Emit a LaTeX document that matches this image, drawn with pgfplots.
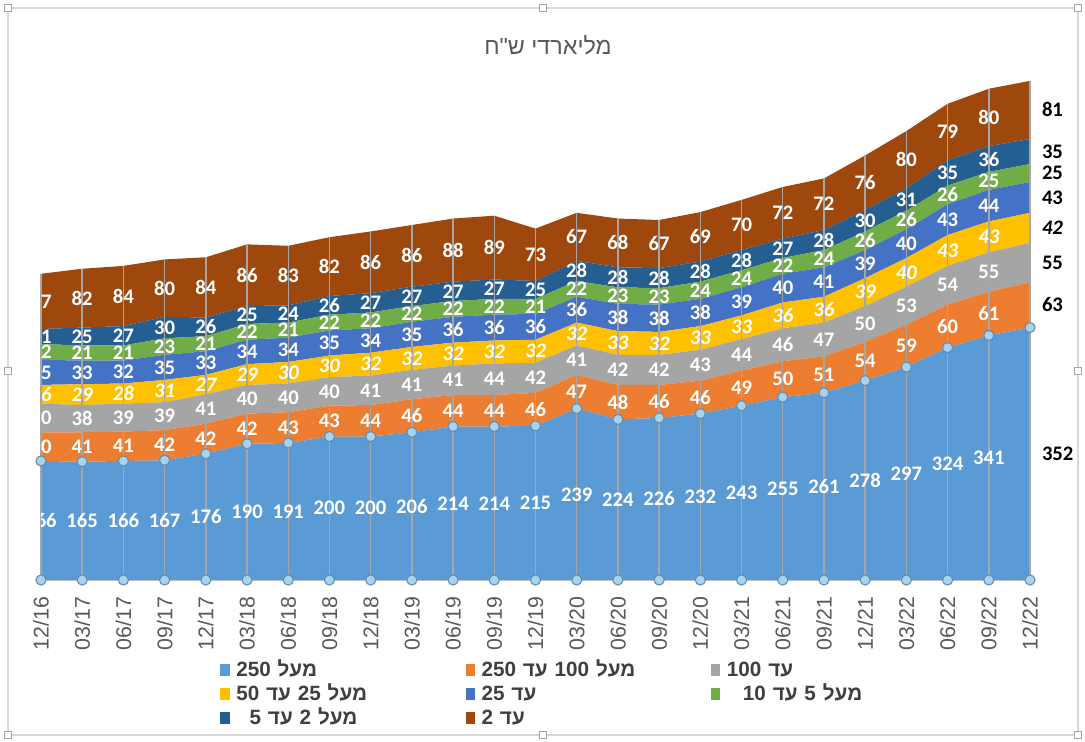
\documentclass[border=0pt]{standalone}
\usepackage{pgfplots}
\pgfplotsset{compat=1.18}
\usepackage{pgfplotstable}
\usepackage{fontspec}
\setmainfont{Carlito}
\newfontfamily\hebfont[Script=Hebrew]{Liberation Sans}
\newfontfamily\titlefont[Script=Hebrew, Ligatures=TeXOff]{Liberation Sans}
\newfontfamily\tickfont{Liberation Sans}
\TeXXeTstate=1
\definecolor{cA}{HTML}{5B9BD5}
\definecolor{cB}{HTML}{ED7D31}
\definecolor{cC}{HTML}{A5A5A5}
\definecolor{cD}{HTML}{FFC000}
\definecolor{cE}{HTML}{4472C4}
\definecolor{cF}{HTML}{70AD47}
\definecolor{cG}{HTML}{255E91}
\definecolor{cH}{HTML}{9E480E}
\definecolor{txtgray}{HTML}{595959}
\definecolor{leggray}{HTML}{3F3F3F}
\definecolor{dropgray}{HTML}{A6A6A6}
\definecolor{mkfill}{HTML}{A9D3EA}
\definecolor{mkdraw}{HTML}{5F8DB5}
\definecolor{framegray}{HTML}{D9D9D9}

\pgfplotstableread{
x s1 s2 s3 s4 s5 s6 s7 s8 z
0 166 40 40 26 35 22 21 77 0
1 165 41 38 29 33 21 25 82 0
2 166 41 39 28 32 21 27 84 0
3 167 42 39 31 35 23 30 80 0
4 176 42 41 27 33 21 26 84 0
5 190 42 40 29 34 22 25 86 0
6 191 43 40 30 34 21 24 83 0
7 200 43 40 30 35 22 26 82 0
8 200 44 41 32 34 22 27 86 0
9 206 46 41 32 35 22 27 86 0
10 214 44 41 32 36 22 27 88 0
11 214 44 44 32 36 22 27 89 0
12 215 46 42 32 36 21 25 73 0
13 239 47 41 32 36 22 28 67 0
14 224 48 42 33 38 23 28 68 0
15 226 46 42 32 38 23 28 67 0
16 232 46 43 33 38 24 28 69 0
17 243 49 44 33 39 24 28 70 0
18 255 50 46 36 40 22 27 72 0
19 261 51 47 36 41 24 28 72 0
20 278 54 50 39 39 26 30 76 0
21 297 59 53 40 40 26 31 80 0
22 324 60 54 43 43 26 35 79 0
23 341 61 55 43 44 25 36 80 0
24 352 63 55 42 43 25 35 81 0
}\data
\pgfplotstablecreatecol[create col/expr={\thisrow{s1}+\thisrow{s2}+\thisrow{s3}+\thisrow{s4}+\thisrow{s5}+\thisrow{s6}+\thisrow{s7}+\thisrow{s8}}]{tot}\data

\pgfplotsset{
  base/.style={at={(30.75pt,121.5pt)}, anchor=south west, width=741.75pt, height=376.5pt,
    scale only axis, xmin=0, xmax=24, ymin=0, ymax=700, clip=false},
  lab/.style={draw=none, mark=none, point meta=explicit,
    /pgf/number format/assume math mode=true,
    visualization depends on={\thisrow{#1} \as \myv},
    nodes near coords={\ifnum\coordindex<24 \pgfmathprintnumber{\pgfplotspointmeta}\else\rlap{\hspace{9pt}\color{black}\pgfmathprintnumber{\pgfplotspointmeta}}\fi},
    every node near coord/.append style={anchor=center, text=white, inner sep=0pt,
      font=\fontsize{15.5}{18}\selectfont\bfseries, yshift={-0.26893pt*\myv}}},
  legimg/.style={legend image code/.code={\fill[##1, draw=none] (0pt,0.5pt) rectangle (7pt,9.5pt);}}
}

\begin{document}
\begin{tikzpicture}
\useasboundingbox (0,0) rectangle (813.75pt,556.5pt);
\fill[white] (0,0) rectangle (813.75pt,556.5pt);
\draw[framegray, line width=0.8pt] (6pt,5.25pt) rectangle (808.5pt,550.5pt);
\foreach \hx/\hy in {6/5.25, 407.25/5.25, 808.5/5.25, 6/278.25, 808.5/278.25, 6/550.5, 407.25/550.5, 808.5/550.5}{
  \filldraw[fill=white, draw=black!35, line width=0.6pt] (\hx pt-2.6pt,\hy pt-2.6pt) rectangle (\hx pt+2.6pt,\hy pt+2.6pt);
}
\node[text=txtgray, font=\titlefont\fontsize{17.5}{20}\selectfont] at (411pt,522.75pt) {\beginR מליארדי ש"ח\endR};

% areas
\begin{axis}[base, stack plots=y,
  axis x line=bottom, axis y line=none,
  x axis line style={-, draw=black!25, line width=0.8pt},
  xtick={0,...,24},
  xticklabels={12/16,03/17,06/17,09/17,12/17,03/18,06/18,09/18,12/18,03/19,06/19,09/19,12/19,03/20,06/20,09/20,12/20,03/21,06/21,09/21,12/21,03/22,06/22,09/22,12/22},
  xtick style={draw=none}, ytick=\empty,
  xticklabel style={rotate=90, anchor=east, font=\tickfont\fontsize{16}{18}\selectfont, text=txtgray},
  xticklabel shift=7pt,
  legimg,
  legend columns=3,
  legend style={at={(0.181,-0.162)}, anchor=north west, draw=none, fill=none, inner sep=0pt,
    font=\hebfont\bfseries\fontsize{15.5}{17}\selectfont, text=leggray,
    /tikz/every odd column/.append style={column sep=5pt},
    /tikz/every even column/.append style={column sep=0pt},
    row sep=4pt,
    nodes={anchor=base west, inner sep=0pt, text width=172pt, align=left, text height=11pt, text depth=3pt}},
]
\addplot[fill=cA, draw=none] table[x=x,y=s1]{\data} \closedcycle;
\addlegendentry{\beginR מעל 250\endR}
\addplot[fill=cB, draw=none] table[x=x,y=s2]{\data} \closedcycle;
\addlegendentry{\beginR מעל 100 עד 250\endR}
\addplot[fill=cC, draw=none] table[x=x,y=s3]{\data} \closedcycle;
\addlegendentry{\beginR עד 100\endR}
\addplot[fill=cD, draw=none] table[x=x,y=s4]{\data} \closedcycle;
\addlegendentry{\beginR מעל 25 עד 50\endR}
\addplot[fill=cE, draw=none] table[x=x,y=s5]{\data} \closedcycle;
\addlegendentry{\beginR עד 25\endR}
\addplot[fill=cF, draw=none] table[x=x,y=s6]{\data} \closedcycle;
\addlegendentry{\hspace*{12pt}\beginR מעל 5 עד 10\endR}
\addplot[fill=cG, draw=none] table[x=x,y=s7]{\data} \closedcycle;
\addlegendentry{\hspace*{10pt}\beginR מעל 2 עד 5\endR}
\addplot[fill=cH, draw=none] table[x=x,y=s8]{\data} \closedcycle;
\addlegendentry{\beginR עד 2\endR}
\end{axis}

% drop lines and markers
\begin{axis}[base, hide axis]
\addplot[ycomb, draw=dropgray, line width=1.1pt, mark=none] table[x=x,y=tot]{\data};
\addplot[only marks, mark=*, mark size=3.8pt, mark options={fill=mkfill, draw=mkdraw, line width=0.8pt}] table[x=x,y=s1]{\data};
\addplot[only marks, mark=*, mark size=3.8pt, mark options={fill=mkfill, draw=mkdraw, line width=0.8pt}] table[x=x,y=z]{\data};
\end{axis}

% data labels
\begin{scope}
\clip (30.75pt,0pt) rectangle (813.75pt,556.5pt);
\begin{axis}[base, hide axis, stack plots=y]
\addplot[lab=s1] table[x=x,y=s1,meta=s1]{\data};
\addplot[lab=s2] table[x=x,y=s2,meta=s2]{\data};
\addplot[lab=s3] table[x=x,y=s3,meta=s3]{\data};
\addplot[lab=s4, every node near coord/.append style={font=\fontsize{15.5}{18}\selectfont\bfseries\itshape}] table[x=x,y=s4,meta=s4]{\data};
\addplot[lab=s5] table[x=x,y=s5,meta=s5]{\data};
\addplot[lab=s6] table[x=x,y=s6,meta=s6]{\data};
\addplot[lab=s7] table[x=x,y=s7,meta=s7]{\data};
\addplot[lab=s8] table[x=x,y=s8,meta=s8]{\data};
\end{axis}
\end{scope}
\end{tikzpicture}
\end{document}
